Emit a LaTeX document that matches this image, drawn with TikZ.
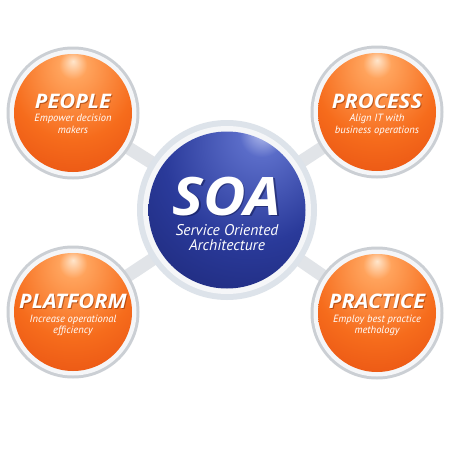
\documentclass[tikz,border=0pt]{standalone}
\usepackage{fontspec}
\setmainfont{PT Sans}
\newfontfamily\titlefont[FakeStretch=1.09]{Open Sans}
\newfontfamily\soafont[FakeStretch=1.1]{Open Sans}
\usetikzlibrary{backgrounds}
\definecolor{ohi}{HTML}{FFE6CC}
\definecolor{ohi2}{HTML}{FFA35C}
\definecolor{omid}{HTML}{F66C1C}
\definecolor{oedge}{HTML}{DC3A0A}
\definecolor{bhi}{HTML}{C4CCF4}
\definecolor{bhi2}{HTML}{5A6CC8}
\definecolor{bmid}{HTML}{2A3A9A}
\definecolor{bedge}{HTML}{141B60}
\definecolor{ringgray}{HTML}{CBCFD4}
\definecolor{ringin}{HTML}{F5F6F8}
\definecolor{soaring}{HTML}{DDE3EA}
\definecolor{bargray}{HTML}{E1E4E8}
\definecolor{oshadow}{HTML}{7A2800}
\definecolor{bshadow}{HTML}{0A1040}
\pgfdeclareradialshading{orangeball}{\pgfpoint{0bp}{22bp}}{color(0bp)=(ohi); color(6bp)=(ohi2); color(26bp)=(omid); color(58bp)=(oedge); color(80bp)=(oedge)}
\pgfdeclareradialshading{blueball}{\pgfpoint{12bp}{26bp}}{color(0bp)=(bhi); color(7bp)=(bhi2); color(28bp)=(bmid); color(62bp)=(bedge); color(85bp)=(bedge)}
\begin{document}
\begin{tikzpicture}[x=1pt,y=-1pt,
  ball/.style={circle, minimum size=118pt, inner sep=0pt, shading=orangeball},
  soaball/.style={circle, minimum size=157pt, inner sep=0pt, shading=blueball},
  bar/.style={line width=13pt, bargray},
  title/.style={font=\titlefont\fontsize{20}{20}\selectfont\bfseries\itshape, text=white, anchor=base, inner sep=0pt, text depth=0pt},
  tshadow/.style={title, text=oshadow, opacity=0.5},
  soatitle/.style={title, font=\soafont\fontsize{53}{53}\selectfont\bfseries\itshape},
  sub/.style={font=\fontsize{10.5}{12}\selectfont\itshape, text=white, anchor=base, inner sep=0pt},
  soasub/.style={sub, font=\fontsize{15.5}{15.5}\selectfont\itshape}]
\useasboundingbox (0,0) rectangle (450,450);
% balls
\node[soaball] (soa) at (227,210) {};
\node[ball] (people) at (73,113) {};
\node[ball] (process) at (377,112) {};
\node[ball] (platform) at (73,312) {};
\node[ball] (practice) at (377,313) {};
\begin{pgfonlayer}{background}
  \fill[white] (0,0) rectangle (450,450);
  \draw[bar] (soa) -- (people);
  \draw[bar] (soa) -- (process);
  \draw[bar] (soa) -- (platform);
  \draw[bar] (soa) -- (practice);
  \fill[soaring] (soa.center) circle (90);
  \fill[ringin] (soa.center) circle (84);
  \foreach \n in {people,process,platform,practice}{
    \fill[ringgray] (\n.center) circle (66.5);
    \fill[ringin] (\n.center) circle (63.5);
  }
\end{pgfonlayer}
% texts
\node[tshadow] at ([xshift=1pt,yshift=4pt]people.center) {PEOPLE};
\node[title] (peoplet) at ([yshift=5pt]people.center) {PEOPLE};
\node[sub] (peoples1) at ([yshift=-8pt]people.center) {Empower decision};
\node[sub] (peoples2) at ([yshift=-20pt]people.center) {makers};

\node[tshadow] at ([xshift=1pt,yshift=3pt]process.center) {PROCESS};
\node[title] (processt) at ([yshift=4pt]process.center) {PROCESS};
\node[sub] (processs1) at ([yshift=-9pt]process.center) {Align IT with};
\node[sub] (processs2) at ([yshift=-21pt]process.center) {business operations};

\node[tshadow] at ([xshift=1pt,yshift=3pt]platform.center) {PLATFORM};
\node[title] (platformt) at ([yshift=4pt]platform.center) {PLATFORM};
\node[sub] (platforms1) at ([yshift=-10pt]platform.center) {Increase operational};
\node[sub] (platforms2) at ([yshift=-21pt]platform.center) {efficiency};

\node[tshadow] at ([xshift=1pt,yshift=4pt]practice.center) {PRACTICE};
\node[title] (practicet) at ([yshift=5pt]practice.center) {PRACTICE};
\node[sub] (practices1) at ([yshift=-9pt]practice.center) {Employ best practice};
\node[sub] (practices2) at ([yshift=-20pt]practice.center) {methology};

\node[soatitle, text=bshadow, opacity=0.45] at ([xshift=1.5pt,yshift=-6.5pt]soa.center) {SOA};
\node[soatitle] (soat) at ([yshift=-5pt]soa.center) {SOA};
\node[soasub] (soas1) at ([yshift=-25pt]soa.center) {Service Oriented};
\node[soasub] (soas2) at ([yshift=-40pt]soa.center) {Architecture};
\end{tikzpicture}
\end{document}
